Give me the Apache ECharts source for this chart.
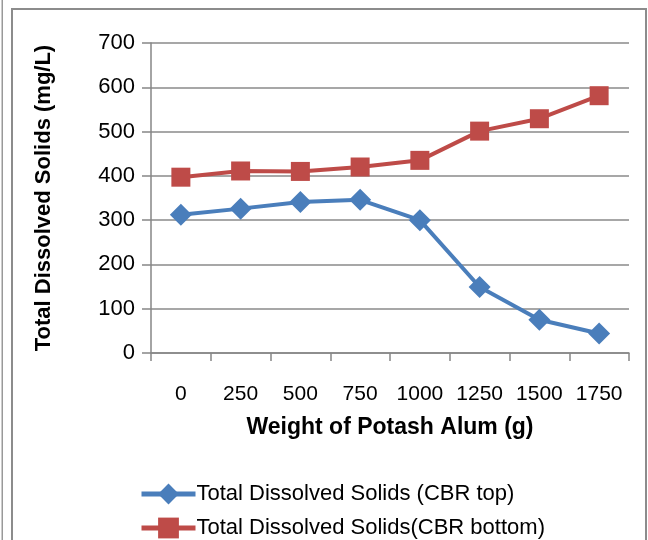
<!DOCTYPE html>
<html><head><meta charset="utf-8">
<script src="https://cdn.jsdelivr.net/npm/echarts@6/dist/echarts.min.js"></script>
<style>html,body{margin:0;padding:0;background:#fff}#c{width:648px;height:540px}</style>
</head><body><div id="c"></div>
<script>
var categories = ['0','250','500','750','1000','1250','1500','1750'];
var cbrTop = [312, 326, 341, 346, 300, 149, 75, 44];
var cbrBottom = [397, 411, 410, 420, 435, 501, 529, 581];
var yTicks = {min: 0, max: 700, interval: 100};
var seriesNames = ['Total Dissolved Solids (CBR top)', 'Total Dissolved Solids(CBR bottom)'];
var FONT = '"Liberation Sans", Arial, sans-serif';
var chart = echarts.init(document.getElementById('c'));
function legendFor(name, top) {
  return {
    orient: 'vertical', left: 139, top: top, itemWidth: 54, itemHeight: 26, padding: 0,
    textStyle: {fontFamily: FONT, fontSize: 22, color: '#000', padding: [0, 0, 0, -4]},
    lineStyle: {width: 5},
    data: [name]
  };
}
chart.setOption({
  animation: false,
  backgroundColor: '#fff',
  graphic: [
    {type: 'rect', shape: {x: 1.5, y: -5, width: 1.5, height: 560}, style: {fill: '#999'}},
    {type: 'rect', shape: {x: 12, y: 9, width: 634, height: 560}, style: {fill: 'none', stroke: '#8c8c8c', lineWidth: 2}}
  ],
  grid: {left: 151, right: 19, top: 43, bottom: 187, containLabel: false},
  xAxis: {
    type: 'category', data: categories, boundaryGap: true,
    name: 'Weight of Potash Alum (g)', nameLocation: 'middle', nameGap: 63,
    nameTextStyle: {fontFamily: FONT, fontWeight: 'bold', fontSize: 23, color: '#000'},
    axisLine: {lineStyle: {color: '#868686', width: 1.5}},
    axisTick: {show: true, length: 8, alignWithLabel: false, lineStyle: {color: '#868686', width: 1.5}},
    axisLabel: {fontFamily: FONT, fontSize: 21, color: '#000', margin: 31, interval: 0}
  },
  yAxis: {
    type: 'value', min: yTicks.min, max: yTicks.max, interval: yTicks.interval,
    name: 'Total Dissolved Solids (mg/L)', nameLocation: 'middle', nameGap: 96,
    nameTextStyle: {fontFamily: FONT, fontWeight: 'bold', fontSize: 22, color: '#000'},
    axisLine: {show: true, lineStyle: {color: '#868686', width: 1.5}},
    axisTick: {show: true, length: 9, lineStyle: {color: '#868686', width: 1.5}},
    axisLabel: {fontFamily: FONT, fontSize: 22, color: '#000', margin: 16},
    splitLine: {lineStyle: {color: '#8a8a8a', width: 1.5}}
  },
  legend: [legendFor(seriesNames[0], 483), legendFor(seriesNames[1], 517)],
  series: [
    {name: seriesNames[0], type: 'line', data: cbrTop,
     symbol: 'diamond', symbolSize: 22, color: '#4a7ebb',
     lineStyle: {width: 4, color: '#4a7ebb'}, itemStyle: {color: '#4a7ebb'}},
    {name: seriesNames[1], type: 'line', data: cbrBottom,
     symbol: 'rect', symbolSize: 19, color: '#be4b48',
     lineStyle: {width: 4, color: '#be4b48'}, itemStyle: {color: '#be4b48'}}
  ]
});
</script></body></html>
